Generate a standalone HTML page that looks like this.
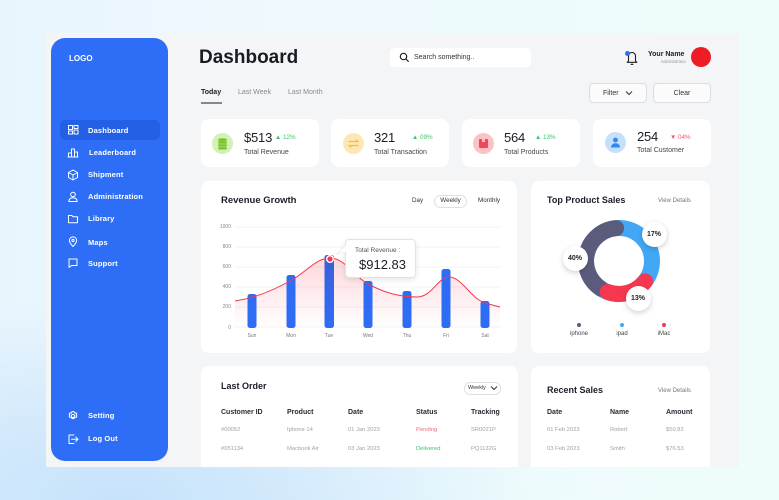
<!DOCTYPE html>
<html><head><meta charset="utf-8">
<style>
*{margin:0;padding:0;box-sizing:border-box}
html,body{width:779px;height:500px;overflow:hidden}
body{position:relative;font-family:"Liberation Sans",sans-serif;
background:radial-gradient(ellipse 420px 200px at 120px 500px,#c6e2fb 0%,rgba(198,226,251,0.6) 45%,rgba(198,226,251,0) 100%),linear-gradient(90deg,#e9f5fd 0%,#eefafd 40%,#effcfc 100%);}
.a{position:absolute}
.t{position:absolute;white-space:nowrap;line-height:1}
.card{position:absolute;background:#fff;border-radius:8px}
.sb{color:#fff;font-size:7.5px;font-weight:bold;letter-spacing:0.15px}
.hd{color:#2a2a35;font-size:7px;font-weight:bold}
.rw{color:#a0a0aa;font-size:5.8px}
.val{font-size:13px;color:#1d1d28;letter-spacing:-0.2px}
.yl{position:absolute;width:20px;text-align:right;font-size:5px;color:#888;line-height:1;left:211px}
.dl{position:absolute;width:30px;text-align:center;font-size:5px;color:#777;line-height:1;top:334px}
.bub{position:absolute;width:25px;height:25px;border-radius:50%;background:#fff;box-shadow:0 2px 6px rgba(0,0,0,0.18);font-size:7px;font-weight:bold;color:#222;line-height:25px;text-align:center}
</style></head><body>

<!-- main panel -->
<div class="a" style="left:46px;top:33px;width:693px;height:434px;background:#f4f5f7;overflow:hidden">
  <div class="a" style="left:155px;top:333px;width:317px;height:110px;background:#fff;border-radius:8px"></div>
  <div class="a" style="left:485px;top:333px;width:179px;height:110px;background:#fff;border-radius:8px"></div>
</div>

<!-- sidebar -->
<div class="a" style="left:51px;top:38px;width:117px;height:423px;background:#2e6ef6;border-radius:14px"></div>
<div class="t" style="left:69px;top:55px;font-size:8px;font-weight:bold;color:#fff">LOGO</div>
<div class="a" style="left:60px;top:120px;width:100px;height:20px;background:#2360e6;border-radius:5px"></div>

<svg class="a" style="left:0;top:0" width="779" height="500" viewBox="0 0 779 500" fill="none" stroke="#fff" stroke-width="1" stroke-linecap="round" stroke-linejoin="round">
  <rect x="68.5" y="125.5" width="4" height="4"/><rect x="74" y="125.5" width="4" height="3"/><rect x="68.5" y="131" width="4" height="3"/><rect x="74" y="130" width="4" height="4"/>
  <path d="M68.5 157v-4h3v4M71.5 157v-8h3v8M74.5 157v-5h3v5M68 157h10"/>
  <path d="M73 170l4.5 2.5v5L73 180l-4.5-2.5v-5zM68.5 172.5L73 175l4.5-2.5M73 175v5"/>
  <circle cx="73" cy="194.5" r="2.3"/><path d="M68.8 201.5c0-2.5 1.8-3.8 4.2-3.8s4.2 1.3 4.2 3.8z"/>
  <path d="M68.5 215.5h3.5l1 1.3h4.5v6h-9z"/>
  <path d="M73 246.5c-2.5-2.6-3.6-4.3-3.6-6a3.6 3.6 0 0 1 7.2 0c0 1.7-1.1 3.4-3.6 6z"/><circle cx="73" cy="240.5" r="1.1"/>
  <path d="M69 259h8v6.5h-5.5l-2.5 2v-2h0z"/>
  <circle cx="73" cy="416" r="1.6"/><path d="M73 411.5l1.2.4.6 1.2 1.3-.2.7 1.1-.7 1.1.7 1.2-.7 1.1-1.3-.2-.6 1.2-1.2.4-1.2-.4-.6-1.2-1.3.2-.7-1.1.7-1.2-.7-1.1.7-1.1 1.3.2.6-1.2z"/>
  <path d="M74 435h-5v8.5h5M71.5 439.2h6.5M75.8 437l2.2 2.2-2.2 2.2"/>
</svg>

<div class="t sb" style="left:88px;top:126.5px">Dashboard</div>
<div class="t sb" style="left:89px;top:148.5px">Leaderboard</div>
<div class="t sb" style="left:88px;top:171px">Shipment</div>
<div class="t sb" style="left:88px;top:193px">Administration</div>
<div class="t sb" style="left:88px;top:215px">Library</div>
<div class="t sb" style="left:88px;top:238.5px">Maps</div>
<div class="t sb" style="left:88px;top:259.5px">Support</div>
<div class="t sb" style="left:88px;top:412px">Setting</div>
<div class="t sb" style="left:88px;top:435px">Log Out</div>

<!-- header -->
<div class="t" style="left:199px;top:47.5px;font-size:19px;font-weight:bold;color:#1b1b24">Dashboard</div>
<div class="t" style="left:201px;top:88.5px;font-size:7px;color:#222;font-weight:bold">Today</div>
<div class="a" style="left:201px;top:102px;width:21px;height:1.5px;background:#888"></div>
<div class="t" style="left:238px;top:89px;font-size:7px;color:#8a8a95">Last Week</div>
<div class="t" style="left:288px;top:89px;font-size:7px;color:#8a8a95">Last Month</div>

<div class="a" style="left:390px;top:48px;width:141px;height:19px;background:#fff;border-radius:4px"></div>
<svg class="a" style="left:398px;top:51px" width="12" height="12" viewBox="0 0 12 12" fill="none" stroke="#222" stroke-width="1.2"><circle cx="5.5" cy="5.5" r="3.2"/><path d="M8 8l2.3 2.3" stroke-linecap="round"/></svg>
<div class="t" style="left:414px;top:53.5px;font-size:7px;color:#333">Search something..</div>

<svg class="a" style="left:624px;top:48px" width="16" height="18" viewBox="0 0 16 18" fill="none" stroke="#222" stroke-width="1.1" stroke-linejoin="round"><path d="M4.5 13V8a3.5 3.5 0 0 1 7 0v5l1.3 1.3H3.2z"/><path d="M6.8 15.8a1.4 1.4 0 0 0 2.4 0"/></svg>
<div class="a" style="left:624.5px;top:50.5px;width:5px;height:5px;border-radius:50%;background:#2e6ef6"></div>
<div class="t" style="left:648px;top:50.5px;font-size:7px;font-weight:bold;color:#222">Your Name</div>
<div class="t" style="left:650px;top:60px;width:36px;text-align:right;font-size:4.3px;color:#999">Administrator</div>
<div class="a" style="left:691px;top:47px;width:20px;height:20px;border-radius:50%;background:#ee1c25"></div>

<div class="a" style="left:589px;top:83px;width:58px;height:20px;border:1px solid #dcdde2;border-radius:4px;background:#fbfbfc"></div>
<div class="t" style="left:603px;top:89.5px;font-size:7px;color:#333">Filter</div>
<svg class="a" style="left:625px;top:90px" width="8" height="6" viewBox="0 0 8 6" fill="none" stroke="#333" stroke-width="1"><path d="M1 1.5l3 3 3-3"/></svg>
<div class="a" style="left:653px;top:83px;width:58px;height:20px;border:1px solid #dcdde2;border-radius:4px;background:#fbfbfc"></div>
<div class="t" style="left:653px;top:89.5px;width:58px;text-align:center;font-size:7px;color:#333">Clear</div>

<!-- stat cards -->
<div class="card" style="left:201px;top:119px;width:118px;height:48px"></div>
<div class="card" style="left:331px;top:119px;width:118px;height:48px"></div>
<div class="card" style="left:462px;top:119px;width:118px;height:48px"></div>
<div class="card" style="left:593px;top:119px;width:118px;height:48px"></div>

<div class="a" style="left:211.5px;top:132.5px;width:21px;height:21px;border-radius:50%;background:#d3f0b5"></div>
<svg class="a" style="left:211.5px;top:132.5px" width="21" height="21" viewBox="0 0 21 21"><g fill="#78c52a"><ellipse cx="10.5" cy="6.8" rx="4.5" ry="1.6"/><rect x="6" y="8.3" width="9" height="2.4" rx="1.2"/><rect x="6" y="11.2" width="9" height="2.4" rx="1.2"/><rect x="6" y="14.1" width="9" height="2.4" rx="1.2"/></g></svg>
<div class="t val" style="left:244px;top:131px">$513</div>
<div class="t" style="left:275px;top:135px;font-size:6.3px;color:#3cc46b">&#9650; 12%</div>
<div class="t" style="left:244px;top:148.5px;font-size:7px;color:#444">Total Revenue</div>

<div class="a" style="left:342.5px;top:132.5px;width:21px;height:21px;border-radius:50%;background:#fde7b5"></div>
<svg class="a" style="left:342.5px;top:132.5px" width="21" height="21" viewBox="0 0 21 21" fill="none" stroke="#f2c038" stroke-width="1.2" stroke-linecap="round"><path d="M6 8.5h9M13 6.8l2 1.7M15 12.5H6M8 14.2l-2-1.7"/></svg>
<div class="t val" style="left:374px;top:131px">321</div>
<div class="t" style="left:412px;top:135px;font-size:6.3px;color:#3cc46b">&#9650; 09%</div>
<div class="t" style="left:374px;top:148.5px;font-size:7px;color:#444">Total Transaction</div>

<div class="a" style="left:472.5px;top:132.5px;width:21px;height:21px;border-radius:50%;background:#fcc3c6"></div>
<svg class="a" style="left:472.5px;top:132.5px" width="21" height="21" viewBox="0 0 21 21"><rect x="6" y="6" width="9" height="9" rx="1" fill="#f0485a"/><rect x="9" y="6" width="3" height="3" fill="#fcc3c6"/></svg>
<div class="t val" style="left:504px;top:130.5px">564</div>
<div class="t" style="left:535px;top:134.5px;font-size:6.3px;color:#3cc46b">&#9650; 13%</div>
<div class="t" style="left:504px;top:148.5px;font-size:7px;color:#444">Total Products</div>

<div class="a" style="left:604.5px;top:131.5px;width:21px;height:21px;border-radius:50%;background:#c4e0fb"></div>
<svg class="a" style="left:604.5px;top:131.5px" width="21" height="21" viewBox="0 0 21 21" fill="#2f8af0"><circle cx="10.5" cy="8" r="2.4"/><path d="M6 15.5c0-2.6 2-4.2 4.5-4.2s4.5 1.6 4.5 4.2z"/></svg>
<div class="t val" style="left:637px;top:130px">254</div>
<div class="t" style="left:670px;top:134.5px;font-size:6.3px;color:#f0566a">&#9660; 04%</div>
<div class="t" style="left:637px;top:146.5px;font-size:7px;color:#444">Total Customer</div>

<!-- revenue card -->
<div class="card" style="left:201px;top:181px;width:316px;height:172px"></div>
<!-- top product card -->
<div class="card" style="left:531px;top:181px;width:179px;height:172px"></div>

<div class="t" style="left:221px;top:196px;font-size:9.5px;font-weight:bold;color:#1d1d28">Revenue Growth</div>
<div class="t" style="left:412px;top:198px;font-size:6.3px;color:#333">Day</div>
<div class="a" style="left:434px;top:195px;width:33px;height:13px;border:1px solid #dedfe3;border-radius:7px"></div>
<div class="t" style="left:434px;top:198px;width:33px;text-align:center;font-size:6.3px;color:#333">Weekly</div>
<div class="t" style="left:478px;top:198px;font-size:6.3px;color:#333">Monthly</div>

<div class="yl" style="top:224.5px">1000</div>
<div class="yl" style="top:244.5px">800</div>
<div class="yl" style="top:264.5px">600</div>
<div class="yl" style="top:284.5px">400</div>
<div class="yl" style="top:304.5px">200</div>
<div class="yl" style="top:325.5px">0</div>

<div class="dl" style="left:237px">Sun</div>
<div class="dl" style="left:276px">Mon</div>
<div class="dl" style="left:314px">Tue</div>
<div class="dl" style="left:353px">Wed</div>
<div class="dl" style="left:392px">Thu</div>
<div class="dl" style="left:431px">Fri</div>
<div class="dl" style="left:470px">Sat</div>

<svg class="a" style="left:0;top:0" width="779" height="500" viewBox="0 0 779 500">
  <defs>
    <linearGradient id="rf" x1="0" y1="0" x2="0" y2="1">
      <stop offset="0" stop-color="#f5374f" stop-opacity="0.2"/>
      <stop offset="1" stop-color="#f5374f" stop-opacity="0"/>
    </linearGradient>
    <linearGradient id="tb" x1="0" y1="0" x2="0" y2="1">
      <stop offset="0" stop-color="#3b5fd9"/><stop offset="1" stop-color="#2f6cf6"/>
    </linearGradient>
  </defs>
  <g stroke="#eeeff2" stroke-width="0.7">
    <line x1="235" y1="227" x2="501" y2="227"/>
    <line x1="235" y1="247" x2="501" y2="247"/>
    <line x1="235" y1="267" x2="501" y2="267"/>
    <line x1="235" y1="287" x2="501" y2="287"/>
    <line x1="235" y1="307" x2="501" y2="307"/>
    <line x1="235" y1="327" x2="501" y2="327"/>
  </g>
  <path d="M235,301 C255,298 275,290 295,278 C310,268 318,258 330,258 C345,258 352,275 368,284 C385,293 400,297 417,297 C432,297 438,277 449,277 C462,277 470,298 485,303 C492,305 496,306 500,307 L500,328 L235,328 Z" fill="url(#rf)"/>
  <g fill="#2f6cf6">
    <rect x="247.5" y="294" width="9" height="34" rx="2.5"/>
    <rect x="286.5" y="275" width="9" height="53" rx="2.5"/>
    <rect x="324.5" y="255" width="9.5" height="73" rx="2.5" fill="url(#tb)"/>
    <rect x="363.5" y="281" width="9" height="47" rx="2.5"/>
    <rect x="402.5" y="291" width="9" height="37" rx="2.5"/>
    <rect x="441.5" y="269" width="9" height="59" rx="2.5"/>
    <rect x="480.5" y="301" width="9" height="27" rx="2.5"/>
  </g>
  <path d="M235,301 C255,298 275,290 295,278 C310,268 318,258 330,258 C345,258 352,275 368,284 C385,293 400,297 417,297 C432,297 438,277 449,277 C462,277 470,298 485,303 C492,305 496,306 500,307" fill="none" stroke="#f5374f" stroke-width="1"/>
  <circle cx="330" cy="259" r="3.3" fill="#f5374f" stroke="#fff" stroke-width="1.4"/>

  <!-- donut -->
  <circle cx="619" cy="261" r="33" fill="none" stroke="#42a8f5" stroke-width="16"/>
  <path d="M601.03,288.68 A33,33 0 0 1 616.12,228.13" fill="none" stroke="#5b5b7c" stroke-width="16" stroke-linecap="round"/>
  <path d="M645.0,281.32 A33,33 0 0 1 607.71,292.01" fill="none" stroke="#f5374f" stroke-width="16" stroke-linecap="round"/>
</svg>

<!-- tooltip -->
<div class="a" style="left:345px;top:239px;width:71px;height:39px;background:#fff;border:1px solid #e2e3e6;border-radius:4px;box-shadow:0 2px 6px rgba(0,0,0,0.1)"></div>
<svg class="a" style="left:336px;top:244px" width="11" height="12" viewBox="0 0 11 12"><path d="M10 1 L1 10 L10 8 Z" fill="#fff"/><path d="M10 1 L1 10 L10 8" fill="none" stroke="#e2e3e6" stroke-width="0.6"/></svg>
<div class="t" style="left:355px;top:248px;font-size:6.5px;color:#555">Total Revenue :</div>
<div class="t" style="left:359px;top:258px;font-size:13px;color:#1d1d28">$912.83</div>

<!-- top product texts -->
<div class="t" style="left:547px;top:195.5px;font-size:9px;font-weight:bold;color:#1d1d28">Top Product Sales</div>
<div class="t" style="left:658px;top:198px;font-size:6px;color:#777">View Details</div>
<div class="bub" style="left:641.5px;top:221.5px">17%</div>
<div class="bub" style="left:562.5px;top:245.5px">40%</div>
<div class="bub" style="left:625.5px;top:285.5px">13%</div>
<div class="a" style="left:577px;top:323px;width:4px;height:4px;border-radius:50%;background:#5b5b7c"></div>
<div class="a" style="left:620px;top:323px;width:4px;height:4px;border-radius:50%;background:#42a8f5"></div>
<div class="a" style="left:662px;top:323px;width:4px;height:4px;border-radius:50%;background:#f5374f"></div>
<div class="t" style="left:559px;top:331px;width:40px;text-align:center;font-size:6px;color:#444">iphone</div>
<div class="t" style="left:602px;top:331px;width:40px;text-align:center;font-size:6px;color:#444">ipad</div>
<div class="t" style="left:644px;top:331px;width:40px;text-align:center;font-size:6px;color:#444">iMac</div>

<!-- last order -->
<div class="t" style="left:221px;top:381.5px;font-size:9px;font-weight:bold;color:#1d1d28">Last Order</div>
<div class="a" style="left:464px;top:381.5px;width:37px;height:13px;border:1px solid #dedfe3;border-radius:6px"></div>
<div class="t" style="left:468px;top:385.5px;font-size:5.5px;color:#333">Weekly</div>
<svg class="a" style="left:490px;top:385px" width="8" height="6" viewBox="0 0 8 6" fill="none" stroke="#333" stroke-width="1"><path d="M1 1.5l3 3 3-3"/></svg>

<div class="t hd" style="left:221px;top:408.5px">Customer ID</div>
<div class="t hd" style="left:287px;top:408.5px">Product</div>
<div class="t hd" style="left:348px;top:408.5px">Date</div>
<div class="t hd" style="left:416px;top:408.5px">Status</div>
<div class="t hd" style="left:471px;top:408.5px">Tracking</div>
<div class="t rw" style="left:221px;top:428px">#00052</div>
<div class="t rw" style="left:287px;top:428px">Iphone 14</div>
<div class="t rw" style="left:348px;top:428px">01 Jan 2023</div>
<div class="t rw" style="left:416px;top:428px;color:#f06b7a">Pending</div>
<div class="t rw" style="left:471px;top:428px">SR0021P</div>
<div class="t rw" style="left:221px;top:447px">#051134</div>
<div class="t rw" style="left:287px;top:447px">Macbook Air</div>
<div class="t rw" style="left:348px;top:447px">03 Jan 2023</div>
<div class="t rw" style="left:416px;top:447px;color:#3cc46b">Delivered</div>
<div class="t rw" style="left:471px;top:447px">PQ1132G</div>

<!-- recent sales -->
<div class="t" style="left:547px;top:385.5px;font-size:9px;font-weight:bold;color:#1d1d28">Recent Sales</div>
<div class="t" style="left:658px;top:388px;font-size:6px;color:#777">View Details</div>
<div class="t hd" style="left:547px;top:408.5px">Date</div>
<div class="t hd" style="left:610px;top:408.5px">Name</div>
<div class="t hd" style="left:666px;top:408.5px">Amount</div>
<div class="t rw" style="left:547px;top:428px">01 Feb 2023</div>
<div class="t rw" style="left:610px;top:428px">Robert</div>
<div class="t rw" style="left:666px;top:428px">$50.82</div>
<div class="t rw" style="left:547px;top:447px">03 Feb 2023</div>
<div class="t rw" style="left:610px;top:447px">Smith</div>
<div class="t rw" style="left:666px;top:447px">$76.53</div>

</body></html>
